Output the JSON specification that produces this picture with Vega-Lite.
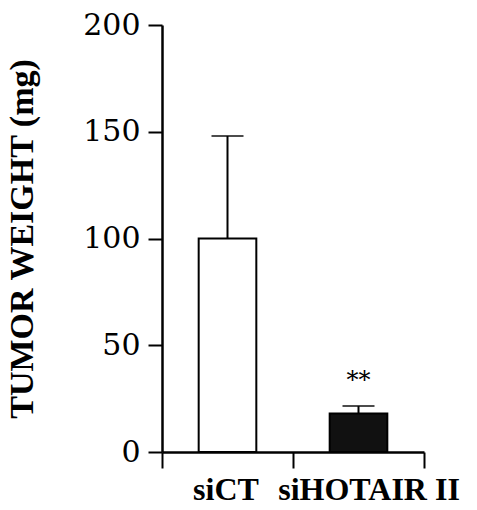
{
  "$schema": "https://vega.github.io/schema/vega-lite/v6.json",
  "width": 262,
  "height": 427,
  "autosize": {"type": "none"},
  "padding": {"left": 162, "top": 25, "right": 53, "bottom": 58},
  "background": "white",
  "config": {
    "view": {"stroke": null},
    "font": "DejaVu Serif"
  },
  "data": {
    "values": [
      {"group": "siCT", "mean": 100, "upper": 148, "sig": ""},
      {"group": "siHOTAIR II", "mean": 18, "upper": 21.5, "sig": "**"}
    ]
  },
  "encoding": {
    "x": {
      "field": "group",
      "type": "nominal",
      "sort": null,
      "scale": {"paddingInner": 0, "paddingOuter": 0},
      "axis": {
        "title": null,
        "labelAngle": 0,
        "labelFont": "Liberation Serif",
        "labelFontWeight": "bold",
        "labelFontSize": 32,
        "labelColor": "black",
        "labelPadding": 6,
        "labelLimit": 0,
        "labelOverlap": false,
        "labelOffset": {"condition": {"test": "datum.value == 'siHOTAIR II'", "value": 10}, "value": -2},
        "tickBand": "extent",
        "tickSize": 16,
        "tickWidth": 2,
        "tickColor": "black",
        "domainColor": "black",
        "domainWidth": 2.5
      }
    }
  },
  "layer": [
    {
      "mark": {"type": "bar", "width": {"band": 0.44}, "stroke": "black", "strokeWidth": 2},
      "encoding": {
        "y": {
          "field": "mean",
          "type": "quantitative",
          "scale": {"domain": [0, 200], "nice": false},
          "axis": {
            "title": "TUMOR WEIGHT (mg)",
            "titleFont": "Liberation Serif",
            "titleFontWeight": "bold",
            "titleFontSize": 34,
            "titleColor": "black",
            "titlePadding": 43,
            "values": [0, 50, 100, 150, 200],
            "grid": false,
            "labelFont": "DejaVu Serif",
            "labelFontSize": 30,
            "labelColor": "black",
            "labelPadding": 8,
            "tickSize": 14,
            "tickWidth": 2,
            "tickColor": "black",
            "domainColor": "black",
            "domainWidth": 2.5
          }
        },
        "fill": {
          "field": "group",
          "type": "nominal",
          "scale": {"domain": ["siCT", "siHOTAIR II"], "range": ["white", "#111111"]},
          "legend": null
        }
      }
    },
    {
      "mark": {"type": "rule", "color": "black", "strokeWidth": 2},
      "encoding": {
        "y": {"field": "mean", "type": "quantitative"},
        "y2": {"field": "upper"}
      }
    },
    {
      "mark": {"type": "tick", "color": "black", "thickness": 2, "size": 32},
      "encoding": {
        "y": {"field": "upper", "type": "quantitative"}
      }
    },
    {
      "mark": {"type": "text", "font": "DejaVu Serif", "fontSize": 24, "baseline": "bottom", "dy": -13, "color": "black"},
      "encoding": {
        "y": {"field": "upper", "type": "quantitative"},
        "text": {"field": "sig"}
      }
    }
  ]
}
